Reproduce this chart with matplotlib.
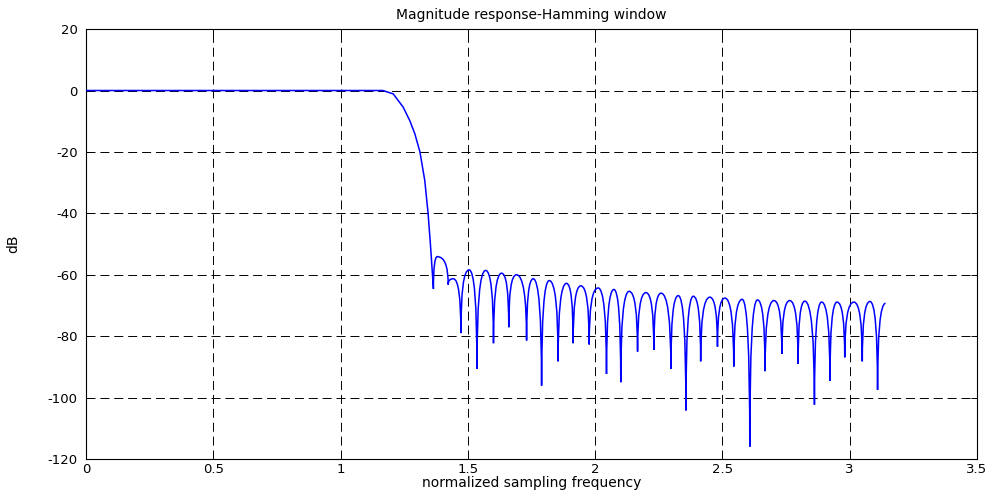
import matplotlib
matplotlib.use('Agg')
import matplotlib.pyplot as plt
from matplotlib.path import Path
from matplotlib.patches import PathPatch

plt.rcParams['font.family'] = ['DejaVu Sans']
plt.rcParams['lines.scale_dashes'] = False
plt.rcParams['axes.unicode_minus'] = False

# passband and roll-off of the filter
roll_x = [0.0, 1.166, 1.207, 1.246, 1.272, 1.292, 1.312, 1.331, 1.344, 1.354, 1.365]
roll_y = [0.0, 0.0, -1.1, -5.4, -9.8, -14.1, -20.0, -29.3, -40.0, -51.0, -64.6]

# stopband sidelobe tops (last entry is the end of the curve at pi)
peak_x = [1.380, 1.443, 1.505, 1.570, 1.633, 1.691, 1.757, 1.820, 1.888, 1.944,
          2.012, 2.074, 2.134, 2.200, 2.259, 2.327, 2.386, 2.451, 2.510, 2.578,
          2.638, 2.703, 2.765, 2.824, 2.890, 2.951, 3.017, 3.080, 3.1416]
peak_y = [-54.1, -61.3, -58.4, -58.6, -59.5, -60.0, -61.3, -61.9, -62.8, -63.6,
          -64.3, -64.8, -65.4, -65.8, -66.0, -66.8, -67.0, -67.3, -67.6, -68.0,
          -68.2, -68.4, -68.4, -68.6, -68.9, -68.9, -68.9, -68.7, -69.3]

# stopband nulls between the sidelobes
null_x = [1.423, 1.473, 1.536, 1.601, 1.661, 1.731, 1.790, 1.855, 1.914, 1.977,
          2.045, 2.101, 2.167, 2.231, 2.298, 2.357, 2.415, 2.481, 2.545, 2.608,
          2.668, 2.734, 2.798, 2.862, 2.923, 2.981, 3.050, 3.110]
null_y = [-63.2, -79.0, -90.7, -82.3, -77.1, -81.4, -96.1, -88.2, -82.3, -82.7,
          -92.3, -95.0, -85.0, -84.5, -90.7, -104.2, -88.2, -83.4, -89.9, -116.0,
          -91.4, -85.8, -89.0, -102.3, -94.5, -86.9, -88.2, -97.5]

x_ticks = [0, 0.5, 1, 1.5, 2, 2.5, 3, 3.5]
x_tick_labels = ['0', '0.5', '1', '1.5', '2', '2.5', '3', '3.5']
y_ticks = [20, 0, -20, -40, -60, -80, -100, -120]

fig = plt.figure(figsize=(9.92, 4.93), dpi=100)
ax = fig.add_axes([0.0867, 0.069, 0.898, 0.872])
ax.set_axisbelow(True)

# build the curve: straight segments for the roll-off, then arches between
# each null and sidelobe top (control point at null x, top y)
verts = [(roll_x[0], roll_y[0])]
codes = [Path.MOVETO]
for x, y in zip(roll_x[1:], roll_y[1:]):
    verts.append((x, y))
    codes.append(Path.LINETO)

ext = []
for i in range(len(peak_x)):
    ext.append((peak_x[i], peak_y[i], 'peak'))
    if i < len(null_x):
        ext.append((null_x[i], null_y[i], 'null'))

prev_x, prev_y = roll_x[-1], roll_y[-1]
for x, y, kind in ext:
    if kind == 'peak':
        ctrl = (prev_x, y)
    else:
        ctrl = (x, prev_y)
    verts.append(ctrl)
    verts.append((x, y))
    codes += [Path.CURVE3, Path.CURVE3]
    prev_x, prev_y = x, y

patch = PathPatch(Path(verts, codes), facecolor='none', edgecolor='#0000ff',
                  lw=1.1, zorder=3)
ax.add_patch(patch)

ax.set_xlim(0, 3.5)
ax.set_ylim(-120, 20)
ax.set_xticks(x_ticks)
ax.set_xticklabels(x_tick_labels)
ax.set_yticks(y_ticks)
ax.grid(True, color='black', linestyle=(0, (6.5, 3.5)), linewidth=0.7)
ax.tick_params(direction='in', length=4, labelsize=9.5, top=True, right=True,
               width=0.7)
ax.tick_params(axis='x', pad=3)
ax.tick_params(axis='y', pad=6)
for s in ax.spines.values():
    s.set_linewidth(0.8)

ax.set_title('Magnitude response-Hamming window', fontsize=10, pad=7)
ax.set_xlabel('normalized sampling frequency', fontsize=10, labelpad=0)
ax.set_ylabel('dB', fontsize=10, labelpad=20)

fig.savefig('out.png', dpi=100)
